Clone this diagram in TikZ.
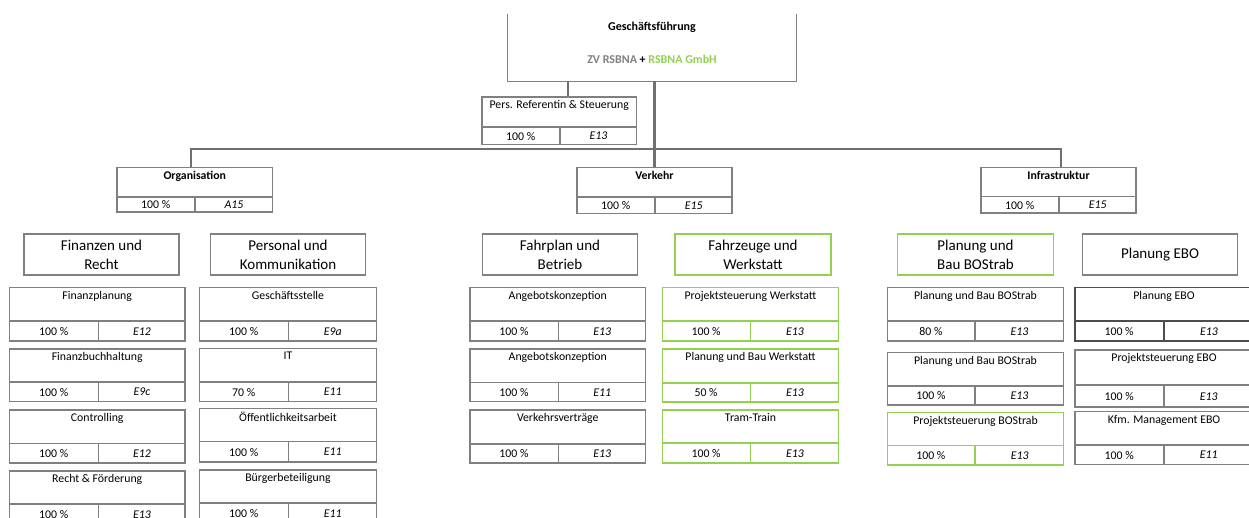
\documentclass[tikz,border=0pt]{standalone}
\usepackage{fontspec}
\setmainfont{Carlito}
\usetikzlibrary{fit,calc}
\definecolor{boxgray}{RGB}{128,128,128}
\definecolor{conngray}{RGB}{112,112,112}
\definecolor{grn}{RGB}{146,208,80}
\definecolor{txtgray}{RGB}{128,128,128}
\tikzset{
 boxline/.style={draw=boxgray, line width=1.2pt},
 gbox/.style={draw=grn, line width=1.5pt},
 darkbox/.style={draw=boxgray!60!black, line width=1.6pt},
 conn/.style={draw=conngray, line width=2.4pt},
 ttl/.style={font=\fontsize{11.8}{13}\selectfont, inner sep=0pt, anchor=north},
 cell/.style={font=\fontsize{11.8}{13}\selectfont, inner sep=0pt},
 code/.style={font=\fontsize{11.8}{13}\selectfont\itshape, inner sep=0pt},
 hdr/.style={font=\fontsize{15}{19}\selectfont, align=center, inner sep=0pt},
 bold/.style={font=\fontsize{12}{13}\selectfont\bfseries, inner sep=0pt},
}
\newcommand\pbox[9][boxline]{%
 \node[#1, fit={(#3)(#4)}, inner sep=0pt] (#2) {};
 \node[ttl] (#2t) at ($(#2.north)+(0,4)$) {#7};
 \draw[#1] (#2.west |- 0,#5) -- (#2.east |- 0,#5);
 \draw[#1] (#6,#5) -- (#2.south -| #6,0);
 \node[cell] (#2p) at ($(#2.south west)!0.5!(#6,#5)$) {#8};
 \node[code] (#2c) at ($(#2.south east)!0.5!(#6,#5)$) {#9};
}
\newcommand\hdrbox[5][boxline]{%
 \node[#1, fit={(#3)(#4)}, inner sep=0pt] (#2) {};
 \node[hdr] (#2t) at (#2.center) {#5};
}
\begin{document}
\begin{tikzpicture}[x=1pt,y=-1pt]
\useasboundingbox (0,0) rectangle (1249,518);
\clip (0,0) rectangle (1249,518);

% Geschäftsführung
\node[fit={(508,14)(796,81)}, inner sep=0pt] (gf) {};
\draw[boxline] (gf.north west) -- (gf.south west) -- (gf.south east) -- (gf.north east);
\node[bold] (gft) at (652,27) {Geschäftsführung};
\node[bold] (gfs) at (652,59)
  {\textcolor{txtgray}{ZV RSBNA} + \textcolor{grn}{RSBNA GmbH}};

% Stabsstelle
\pbox{pers}{482,97}{636.5,144.5}{127}{560}{Pers. Referentin \& Steuerung}{100 \%}{E13}

% Bereichsleitungen
\pbox{org}{117,167.5}{272.5,212}{197}{195}{\textbf{Organisation}}{100 \%}{A15}
\pbox{verk}{577,167.5}{732,213.5}{197}{655}{\textbf{Verkehr}}{100 \%}{E15}
\pbox{infra}{981,167.5}{1136,213}{196.5}{1059}{\textbf{Infrastruktur}}{100 \%}{E15}

% connectors
\draw[conn] (gf.south -| 568,0) -- (pers.north -| 568,0);
\draw[conn] (gf.south -| 654.5,0) -- (verk.north -| 654.5,0);
\draw[conn] (org.north -| 191,0) -- (191,149) -- (1061,149) -- (infra.north -| 1061,0);

% Abteilungen
\hdrbox{fin}{24,234}{179,275}{Finanzen und\\Recht}
\hdrbox{pk}{210.5,234}{365.5,275}{Personal und\\Kommunikation}
\hdrbox{fpb}{482.5,234}{637.5,275}{Fahrplan und\\Betrieb}
\hdrbox[gbox]{fzw}{675,234}{831,275}{Fahrzeuge und\\Werkstatt}
\hdrbox[gbox]{pbb}{897.5,234}{1053.5,275}{Planung und\\Bau BOStrab}
\hdrbox{pebo}{1082.5,234}{1237.5,275}{Planung EBO}

% Organisation
\pbox{fp}{9.5,287.5}{185,341}{321}{98.5}{Finanzplanung}{100 \%}{E12}
\pbox{fb}{9.5,349}{185,401.5}{382}{98.5}{Finanzbuchhaltung}{100 \%}{E9c}
\pbox{ct}{9.5,410}{185,463}{443.5}{98.5}{Controlling}{100 \%}{E12}
\pbox{rf}{9.5,471}{185,524}{504}{98.5}{Recht \& Förderung}{100 \%}{E13}
\pbox{gs}{199.5,287.5}{376.5,341}{321}{288.5}{Geschäftsstelle}{100 \%}{E9a}
\pbox{it}{199.5,348.5}{376.5,401.5}{382}{288.5}{IT}{70 \%}{E11}
\pbox{oa}{199.5,408.5}{376.5,462}{441.5}{288.5}{Öffentlichkeitsarbeit}{100 \%}{E11}
\pbox{bb}{199.5,470}{376.5,524}{503}{288.5}{Bürgerbeteiligung}{100 \%}{E11}

% Verkehr
\pbox{ak1}{470,287.5}{645.5,341}{321}{558.5}{Angebotskonzeption}{100 \%}{E13}
\pbox{ak2}{470,349}{645.5,401.5}{382.5}{558.5}{Angebotskonzeption}{100 \%}{E11}
\pbox{vv}{470,410}{645.5,463}{444}{558.5}{Verkehrsverträge}{100 \%}{E13}
\pbox[gbox]{pw}{662.5,287.5}{838.5,341}{321}{750.5}{Projektsteuerung Werkstatt}{100 \%}{E13}
\pbox[gbox]{pbw}{662.5,349}{838.5,402}{383}{750.5}{Planung und Bau Werkstatt}{50 \%}{E13}
\pbox[gbox]{tt}{662.5,410}{838.5,463}{443}{750.5}{Tram-Train}{100 \%}{E13}

% Infrastruktur
\pbox{bs1}{887.5,287.5}{1063.5,341}{321}{975}{Planung und Bau BOStrab}{80 \%}{E13}
\pbox{bs2}{887.5,352.5}{1063.5,405}{386}{975}{Planung und Bau BOStrab}{100 \%}{E13}
\pbox[gbox]{psb}{887.5,412.5}{1063.5,465}{445.5}{975}{Projektsteuerung BOStrab}{100 \%}{E13}
\pbox[darkbox]{ebo1}{1075,287.5}{1253,341}{321}{1164}{Planung EBO}{100 \%}{E13}
\pbox{ebo2}{1075,350}{1253,407}{385}{1164}{Projektsteuerung EBO}{100 \%}{E13}
\pbox{ebo3}{1075,411.5}{1253,464.5}{445}{1164}{Kfm. Management EBO}{100 \%}{E11}
\end{tikzpicture}
\end{document}
